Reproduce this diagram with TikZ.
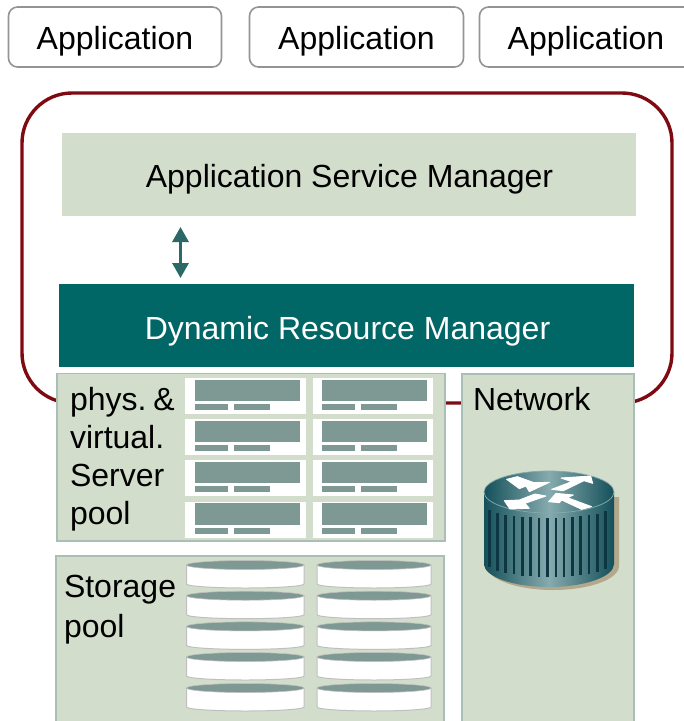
\documentclass[tikz,border=0pt]{standalone}
\usepackage{fontspec}
\setmainfont{Liberation Sans}
\usetikzlibrary{arrows.meta}
\definecolor{sage}{HTML}{D3DDCC}
\definecolor{panelline}{HTML}{A9BFB5}
\definecolor{teal}{HTML}{006666}
\definecolor{arrowteal}{HTML}{2B6868}
\definecolor{slate}{HTML}{7E9893}
\definecolor{wine}{HTML}{7F0A12}
\definecolor{rdark}{HTML}{14505A}
\definecolor{rlight}{HTML}{86ABAE}
\definecolor{rslat}{HTML}{0B3642}
\definecolor{rshadow}{HTML}{B3A88C}
\tikzset{
  every node/.style={inner sep=0pt,outer sep=0pt,font=\fontsize{32}{38}\selectfont},
  appbox/.style={draw=black!42,line width=1.6pt,rounded corners=9pt,fill=white,anchor=north west,minimum height=60pt},
  band/.style={anchor=north west,minimum height=83pt},
  panel/.style={draw=panelline,line width=1.5pt,fill=sage},
  label/.style={anchor=base west,text=black},
  unitbg/.style={fill=white,anchor=north west,minimum width=120.5pt,minimum height=36pt},
  slab/.style={fill=slate},
  disk/.style={fill=white,draw=black!25,line width=1pt},
  disktop/.style={fill=slate,draw=black!25,line width=.6pt},
  routerarrow/.style={fill=white,draw=white,line width=.9pt,line join=round}
}
\begin{document}
\begin{tikzpicture}[x=1pt,y=-1pt]
\useasboundingbox (0,0) rectangle (684,721);
\clip (0,0) rectangle (684,721);
% application boxes
\node[appbox,minimum width=213pt] (app1) at (8.5,7) {};
\node at (115,41) {Application};
\node[appbox,minimum width=214pt] (app2) at (249.5,7) {};
\node at (356.5,41) {Application};
\node[appbox,minimum width=214pt] (app3) at (479.5,7) {};
\node at (586,41) {Application};
% enclosing service frame
\draw[wine,line width=3.4pt,rounded corners=50pt] (22,93) rectangle (672,403);
% managers
\node[band,fill=sage,minimum width=574pt] (asm) at (62,133) {};
\node at (349.5,179) {Application Service Manager};
\node[band,fill=teal,minimum width=575pt] (drm) at (59,284) {};
\node[text=white] at (347.5,331) {Dynamic Resource Manager};
\coordinate (arrowtop) at (180.5,227);
\coordinate (arrowbot) at (180.5,278);
\draw[arrowteal,line width=3pt,{Triangle[length=15pt,width=16pt]}-{Triangle[length=15pt,width=16pt]}] (arrowtop) -- (arrowbot);
% server pool
\draw[panel] (57,373.5) rectangle (445,541);
\node[label] (t1) at (70,410) {phys.\hspace{7pt}\&};
\node[label] (t2) at (70,448) {virtual.};
\node[label] (t3) at (70,486) {Server};
\node[label] (t4) at (70,524) {pool};
\foreach \col/\xo in {1/0,2/127.3}{
  \foreach \row/\yo in {1/378,2/419.2,3/460.4,4/501.6}{
    \node[unitbg] (u\col\row) at (185.2+\xo,\yo) {};
    \fill[slab] (194.5+\xo,\yo+1.7) rectangle (300+\xo,\yo+23);
    \fill[slab] (194.5+\xo,\yo+26) rectangle (228+\xo,\yo+32);
    \fill[slab] (233.5+\xo,\yo+26) rectangle (270+\xo,\yo+32);
  }
}
% storage pool
\draw[panel] (56,556) rectangle (444,730);
\node[label] (t5) at (64,597) {Storage};
\node[label] (t6) at (64,637) {pool};
\foreach \xl/\xr in {186.5/304,317/431}{
  \foreach \yo in {565,595.7,626.4,657,688}{
    \pgfmathsetmacro\xm{(\xl+\xr)/2}
    \pgfmathsetmacro\rx{(\xr-\xl)/2}
    \draw[disk] (\xl,\yo) -- (\xl,\yo+19) arc[start angle=180,end angle=0,x radius=\rx,y radius=4] -- (\xr,\yo) -- cycle;
    \draw[disktop] (\xm,\yo) ellipse[x radius=\rx,y radius=4.5];
  }
}
% network panel
\draw[panel] (462,374) rectangle (634,730);
\node[label] (t7) at (473,410) {Network};
% router
\fill[rshadow] (619,497) -- (619,566) arc[start angle=0,end angle=180,x radius=66,y radius=24] -- (487,497) -- cycle;
\path[left color=rdark,right color=rdark,middle color=rlight]
  (484,492) -- (484,564) arc[start angle=180,end angle=0,x radius=65,y radius=23] -- (614,492) -- cycle;
\foreach \sx in {88,112,137,162,187,212,237,262,288,312,337,362,387,412,437}{
  \pgfmathsetmacro\bx{460+\sx/3}
  \pgfmathsetmacro\dy{sqrt(1-((\bx-549)/65)^2)}
  \pgfmathsetmacro\yt{505+\dy*13}
  \pgfmathsetmacro\yb{561+\dy*16}
  \fill[rslat] (\bx-1.2,\yt) rectangle (\bx+1.2,\yb);
}
\path[left color=rdark,right color=rdark,middle color=rlight,draw=rlight,line width=.7pt]
  (549,492) ellipse[x radius=65,y radius=21];
\begin{scope}[shift={(460,450)},x=.3333pt,y=-.3333pt]
\path[routerarrow] (140,88) -- (172,80) -- (222,98) -- (268,97) -- (208,125) -- (198,108) -- (178,116) -- cycle;
\path[routerarrow] (275,118) -- (335,95) -- (303,84) -- (392,78) -- (398,100) -- (372,92) -- (310,122) -- cycle;
\path[routerarrow] (133,152) -- (178,150) -- (225,132) -- (258,138) -- (195,160) -- (208,175) -- (150,177) -- cycle;
\path[routerarrow] (266,155) -- (288,130) -- (340,135) -- (322,143) -- (395,170) -- (365,178) -- (305,150) -- (298,158) -- cycle;
\end{scope}
\end{tikzpicture}
\end{document}
